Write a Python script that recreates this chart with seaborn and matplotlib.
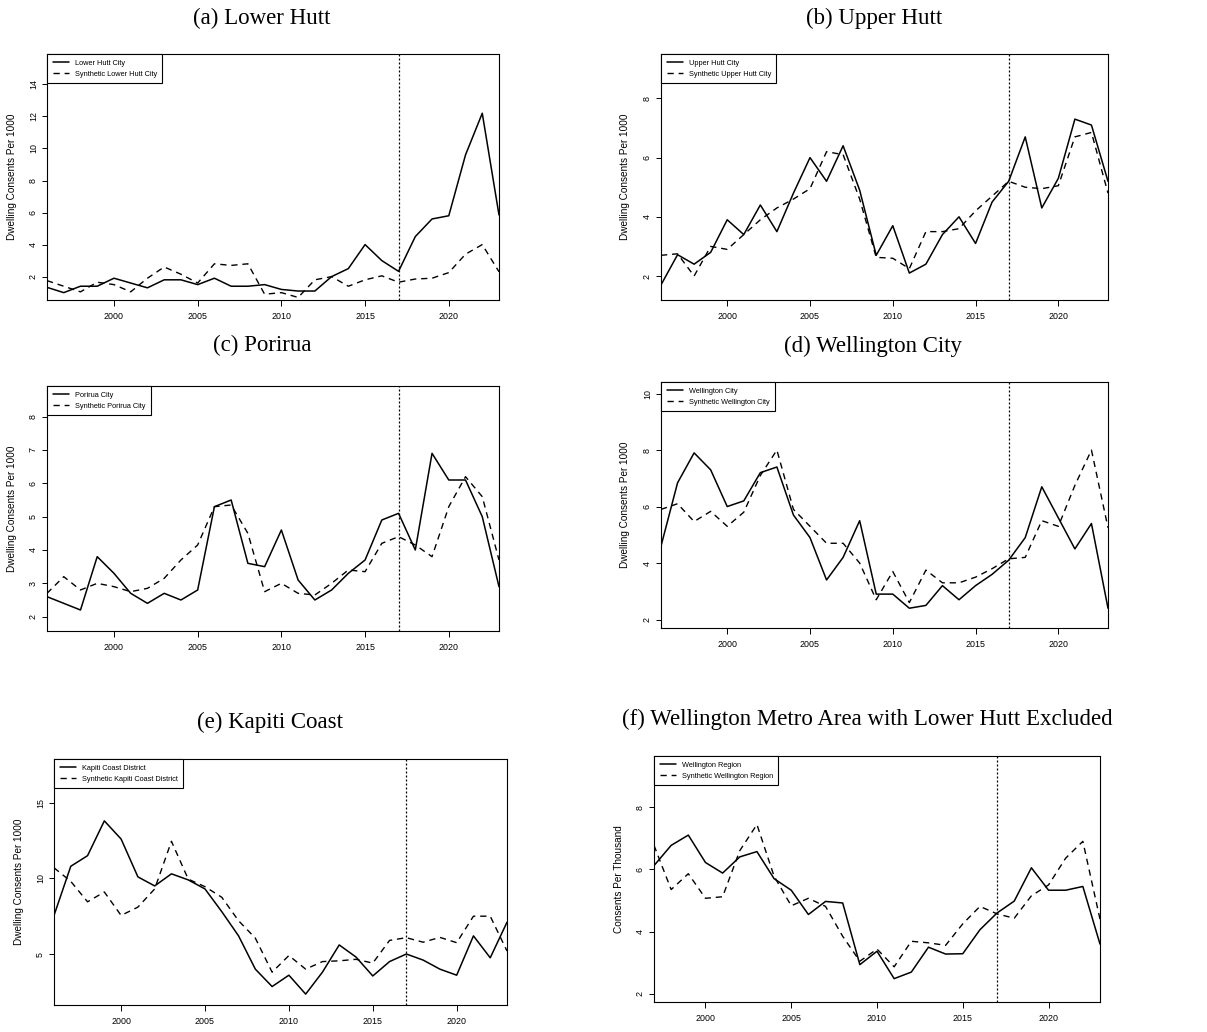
import matplotlib
matplotlib.use('Agg')
import matplotlib.pyplot as plt
import seaborn as sns

years = list(range(1996, 2024))
years_f = list(range(1997, 2024))

lower_hutt = [1.33, 1.0, 1.4, 1.4, 1.9, 1.6, 1.3, 1.8, 1.8, 1.5, 1.9, 1.4, 1.4, 1.5,
              1.2, 1.1, 1.1, 2.0, 2.5, 4.0, 3.0, 2.33, 4.5, 5.6, 5.8, 9.6, 12.2, 5.85]
lower_hutt_syn = [1.75, 1.4, 1.05, 1.65, 1.5, 1.05, 1.9, 2.6, 2.15, 1.6, 2.8, 2.7, 2.8, 0.9,
                  1.0, 0.7, 1.8, 2.0, 1.4, 1.8, 2.05, 1.65, 1.85, 1.9, 2.25, 3.4, 4.0, 2.3]

upper_hutt = [1.7, 2.72, 2.4, 2.8, 3.9, 3.4, 4.4, 3.5, 4.8, 6.0, 5.2, 6.4, 4.9, 2.7,
              3.7, 2.1, 2.4, 3.4, 4.0, 3.1, 4.5, 5.2, 6.7, 4.3, 5.3, 7.3, 7.1, 5.2]
upper_hutt_syn = [2.7, 2.75, 2.0, 3.0, 2.9, 3.4, 3.9, 4.3, 4.6, 4.95, 6.2, 6.1, 4.6, 2.63,
                  2.6, 2.25, 3.5, 3.5, 3.6, 4.2, 4.7, 5.2, 5.0, 4.95, 5.05, 6.7, 6.85, 4.8]

porirua = [2.6, 2.4, 2.2, 3.8, 3.3, 2.7, 2.4, 2.7, 2.5, 2.8, 5.3, 5.5, 3.6, 3.5,
           4.6, 3.1, 2.5, 2.8, 3.3, 3.7, 4.9, 5.1, 4.0, 6.9, 6.1, 6.1, 5.0, 2.9]
porirua_syn = [2.7, 3.2, 2.8, 3.0, 2.9, 2.75, 2.85, 3.15, 3.7, 4.15, 5.3, 5.35, 4.5, 2.75,
               3.0, 2.7, 2.65, 3.0, 3.4, 3.35, 4.2, 4.4, 4.15, 3.8, 5.3, 6.2, 5.6, 3.7]

wellington = [4.6, 6.84, 7.9, 7.3, 6.0, 6.2, 7.2, 7.4, 5.7, 4.9, 3.4, 4.2, 5.5, 2.9,
              2.9, 2.4, 2.5, 3.2, 2.7, 3.2, 3.6, 4.1, 4.9, 6.7, 5.6, 4.5, 5.4, 2.4]
wellington_syn = [5.9, 6.1, 5.47, 5.83, 5.3, 5.8, 7.1, 8.0, 5.9, 5.3, 4.7, 4.7, 4.0, 2.7,
                  3.7, 2.6, 3.75, 3.3, 3.3, 3.5, 3.8, 4.15, 4.2, 5.5, 5.3, 6.75, 8.0, 5.25]

kapiti = [7.55, 10.8, 11.5, 13.8, 12.6, 10.1, 9.5, 10.3, 9.9, 9.3, 7.8, 6.2, 4.0, 2.85,
          3.6, 2.35, 3.8, 5.6, 4.8, 3.55, 4.5, 5.0, 4.6, 4.0, 3.6, 6.2, 4.75, 7.1]
kapiti_syn = [10.7, 9.8, 8.45, 9.1, 7.55, 8.1, 9.3, 12.45, 9.95, 9.45, 8.75, 7.2, 6.05, 3.8,
              4.9, 4.0, 4.5, 4.55, 4.65, 4.4, 5.9, 6.08, 5.78, 6.1, 5.75, 7.5, 7.5, 5.2]

region = [6.12, 6.77, 7.1, 6.22, 5.88, 6.4, 6.57, 5.7, 5.33, 4.55, 4.97, 4.92, 2.94,
          3.37, 2.49, 2.7, 3.5, 3.28, 3.29, 4.06, 4.6, 4.98, 6.05, 5.33, 5.33, 5.45, 3.6]
region_syn = [6.77, 5.35, 5.86, 5.07, 5.12, 6.6, 7.44, 5.78, 4.83, 5.07, 4.81, 3.85, 3.05,
              3.44, 2.87, 3.69, 3.64, 3.56, 4.25, 4.81, 4.57, 4.43, 5.15, 5.5, 6.36, 6.9, 4.4]

titles = ['(a) Lower Hutt', '(b) Upper Hutt', '(c) Porirua', '(d) Wellington City',
          '(e) Kapiti Coast', '(f) Wellington Metro Area with Lower Hutt Excluded']
names = ['Lower Hutt City', 'Upper Hutt City', 'Porirua City', 'Wellington City',
         'Kapiti Coast District', 'Wellington Region']
ylabels = ['Dwelling Consents Per 1000'] * 5 + ['Consents Per Thousand']
yticks = [[2, 4, 6, 8, 10, 12, 14], [2, 4, 6, 8], [2, 3, 4, 5, 6, 7, 8],
          [2, 4, 6, 8, 10], [5, 10, 15], [2, 4, 6, 8]]
xticks = [2000, 2005, 2010, 2015, 2020]
treat_year = 2017

actual = [lower_hutt, upper_hutt, porirua, wellington, kapiti, region]
synthetic = [lower_hutt_syn, upper_hutt_syn, porirua_syn, wellington_syn, kapiti_syn, region_syn]
xs = [years] * 5 + [years_f]

# layout in pixels (left, right, top, bottom)
W, H = 1207, 1032
boxes = [(47, 499, 54, 300), (661, 1108, 54, 300), (47, 499, 386, 631),
         (661, 1108, 382, 628), (54, 507, 759, 1005), (654, 1100, 756, 1002)]
ylims = [(0.54, 15.9), (1.19, 9.5), (1.57, 8.92), (1.7, 10.41), (1.63, 17.89), (1.74, 9.64)]
title_pos = [(262, 18), (874, 18), (262, 345), (873, 346), (270, 722), (867, 719)]
ylabel_x = [11.7, 625, 11.7, 625, 18.3, 618.3]

sns.set_style('ticks')
plt.rcParams['font.family'] = ['Liberation Sans', 'DejaVu Sans']
plt.rcParams['text.color'] = 'black'
plt.rcParams['axes.labelcolor'] = 'black'
plt.rcParams['xtick.color'] = 'black'
plt.rcParams['ytick.color'] = 'black'

fig = plt.figure(figsize=(W / 100, H / 100), dpi=100)

for i in range(6):
    l, r, t, b = boxes[i]
    ax = fig.add_axes([l / W, 1 - b / H, (r - l) / W, (b - t) / H])
    sns.lineplot(x=xs[i], y=actual[i], color='black', lw=1.1, ax=ax, label=names[i])
    sns.lineplot(x=xs[i], y=synthetic[i], color='black', lw=1.0, ax=ax,
                 linestyle=(0, (4.5, 3.5)), label='Synthetic ' + names[i])
    ax.axvline(treat_year, color='black', lw=0.9, linestyle=(0, (1.6, 1.6)))
    ax.set_xlim(xs[i][0], 2023)
    ax.set_ylim(*ylims[i])
    ax.set_xticks(xticks)
    ax.set_yticks(yticks[i])
    ax.tick_params(axis='x', labelsize=6.4, length=4.3, width=0.7, pad=4.5)
    ax.tick_params(axis='y', labelsize=6.4, length=3.8, width=0.7, pad=2.8, labelrotation=90)
    for lab in ax.get_yticklabels():
        lab.set_verticalalignment('center')
    for s in ax.spines.values():
        s.set_linewidth(0.8)
        s.set_color('black')
    ax.set_xlabel('')
    ax.set_ylabel(ylabels[i], fontsize=7.2)
    ax.yaxis.set_label_coords((ylabel_x[i] + 5.4 - l) / (r - l), 0.5)
    leg = ax.legend(loc='upper left', borderaxespad=0, fontsize=5.3, frameon=True,
                    fancybox=False, edgecolor='black', framealpha=1, handlelength=2.2,
                    handletextpad=0.8, labelspacing=0.5, borderpad=0.75)
    leg.get_frame().set_linewidth(0.8)
    fig.text(title_pos[i][0] / W, 1 - title_pos[i][1] / H, titles[i], ha='center', va='center',
             fontsize=16.5, family=['Liberation Serif', 'DejaVu Serif'])

fig.savefig('out.png', dpi=100)
